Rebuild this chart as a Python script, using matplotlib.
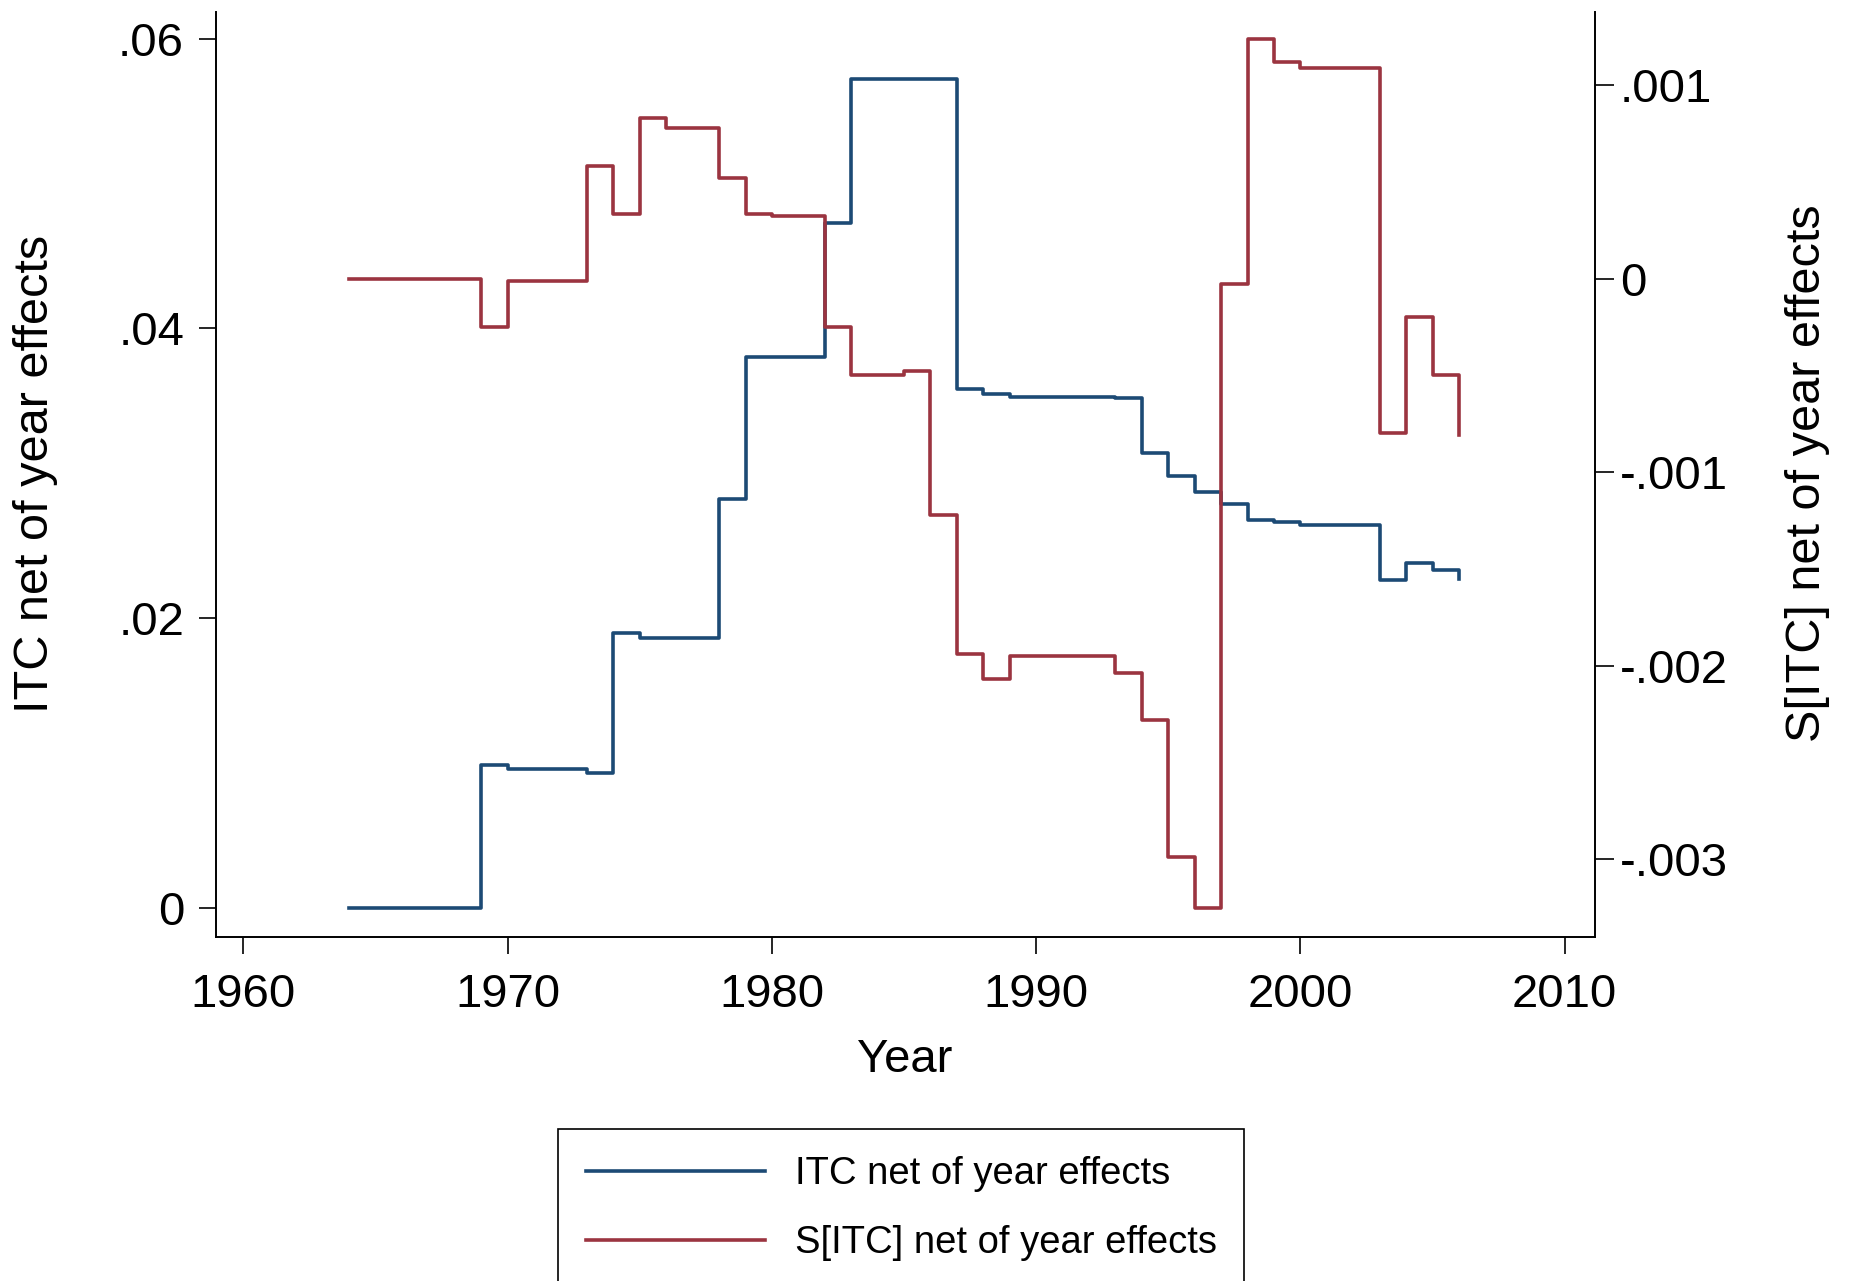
import matplotlib
matplotlib.use('Agg')
import matplotlib.pyplot as plt

plt.rcParams['font.family'] = ['Liberation Sans', 'DejaVu Sans']

years = list(range(1964, 2007))

itc = [0.0, 0.0, 0.0, 0.0, 0.0,
       0.00985, 0.0096, 0.0096, 0.0096, 0.0093,
       0.0190, 0.0186, 0.0186, 0.0186, 0.0282,
       0.0380, 0.0380, 0.0380, 0.0473, 0.0572,
       0.0572, 0.0572, 0.0572, 0.0358, 0.0355,
       0.0353, 0.0353, 0.0353, 0.0353, 0.0352,
       0.0314, 0.0298, 0.0287, 0.0279, 0.0268,
       0.0266, 0.0264, 0.0264, 0.0264, 0.0226,
       0.0238, 0.0233, 0.0227]

s_itc = [0.0, 0.0, 0.0, 0.0, 0.0,
         -0.00025, -0.00001, -0.00001, -0.00001, 0.00058,
         0.000335, 0.00083, 0.00078, 0.00078, 0.00052,
         0.000335, 0.000325, 0.000325, -0.00025, -0.0005,
         -0.0005, -0.000476, -0.00122, -0.00194, -0.00207,
         -0.00195, -0.00195, -0.00195, -0.00195, -0.00204,
         -0.00228, -0.00299, -0.00325, -0.00003, 0.00124,
         0.00112, 0.00109, 0.00109, 0.00109, -0.0008,
         -0.0002, -0.0005, -0.00081]

xticks = [1960, 1970, 1980, 1990, 2000, 2010]
left_ticks = [0, 0.02, 0.04, 0.06]
left_labels = ['0', '.02', '.04', '.06']
right_ticks = [-0.003, -0.002, -0.001, 0, 0.001]
right_labels = ['-.003', '-.002', '-.001', '0', '.001']

label_itc = 'ITC net of year effects'
label_s = 'S[ITC] net of year effects'

BLUE = '#1c4a75'
RED = '#9b3440'

W, H = 1853, 1281
fig = plt.figure(figsize=(W / 100, H / 100), dpi=100)
fig.patch.set_facecolor('white')

ax_l, ax_r, ax_b, ax_t = 216, 1595, 937, 12
ax = fig.add_axes([ax_l / W, 1 - ax_b / H, (ax_r - ax_l) / W, (ax_b - ax_t) / H])
ax2 = ax.twinx()

l1, = ax.plot(years, itc, drawstyle='steps-post', color=BLUE, lw=2.6,
              label=label_itc)
l2, = ax2.plot(years, s_itc, drawstyle='steps-post', color=RED, lw=2.6,
               label=label_s)

ax.set_xlim(1958.96, 2011.15)
ax.set_ylim(-0.00203, 0.06186)
ax2.set_ylim(-0.003402, 0.001378)

ax.set_xticks(xticks)
ax.set_xticklabels([str(x) for x in xticks])
ax.set_yticks(left_ticks)
ax.set_yticklabels(left_labels)
ax2.set_yticks(right_ticks)
ax2.set_yticklabels(right_labels)

for a in (ax, ax2):
    a.spines['top'].set_visible(False)
    for s in a.spines.values():
        s.set_linewidth(1.4)
ax.spines['right'].set_visible(False)
ax2.spines['left'].set_visible(False)
ax2.spines['bottom'].set_visible(False)

ax.tick_params(axis='x', length=12, width=1.2, labelsize=34, pad=14)
ax.tick_params(axis='y', length=12, width=1.2, labelsize=34, pad=11)
ax2.tick_params(axis='y', length=14, width=1.2, labelsize=34, pad=4)

fig.text(905 / W, 1 - 1060 / H, 'Year', ha='center', va='center', fontsize=34)
fig.text(35.5 / W, 1 - 474 / H, label_itc, ha='center', va='center',
         rotation=90, fontsize=35)
fig.text(1808 / W, 1 - 473 / H, label_s, ha='center', va='center',
         rotation=90, fontsize=35)

leg = fig.legend([l1, l2], [label_itc, label_s], loc='upper left',
                 bbox_to_anchor=(558 / W, 1 - 1128.6 / H), borderaxespad=0,
                 fontsize=27.5, handlelength=4.7, handletextpad=0.78,
                 labelspacing=0.87, borderpad=0.72, fancybox=False,
                 framealpha=1, edgecolor='black')
leg.get_frame().set_linewidth(1.2)

fig.savefig('out.png', dpi=100)
